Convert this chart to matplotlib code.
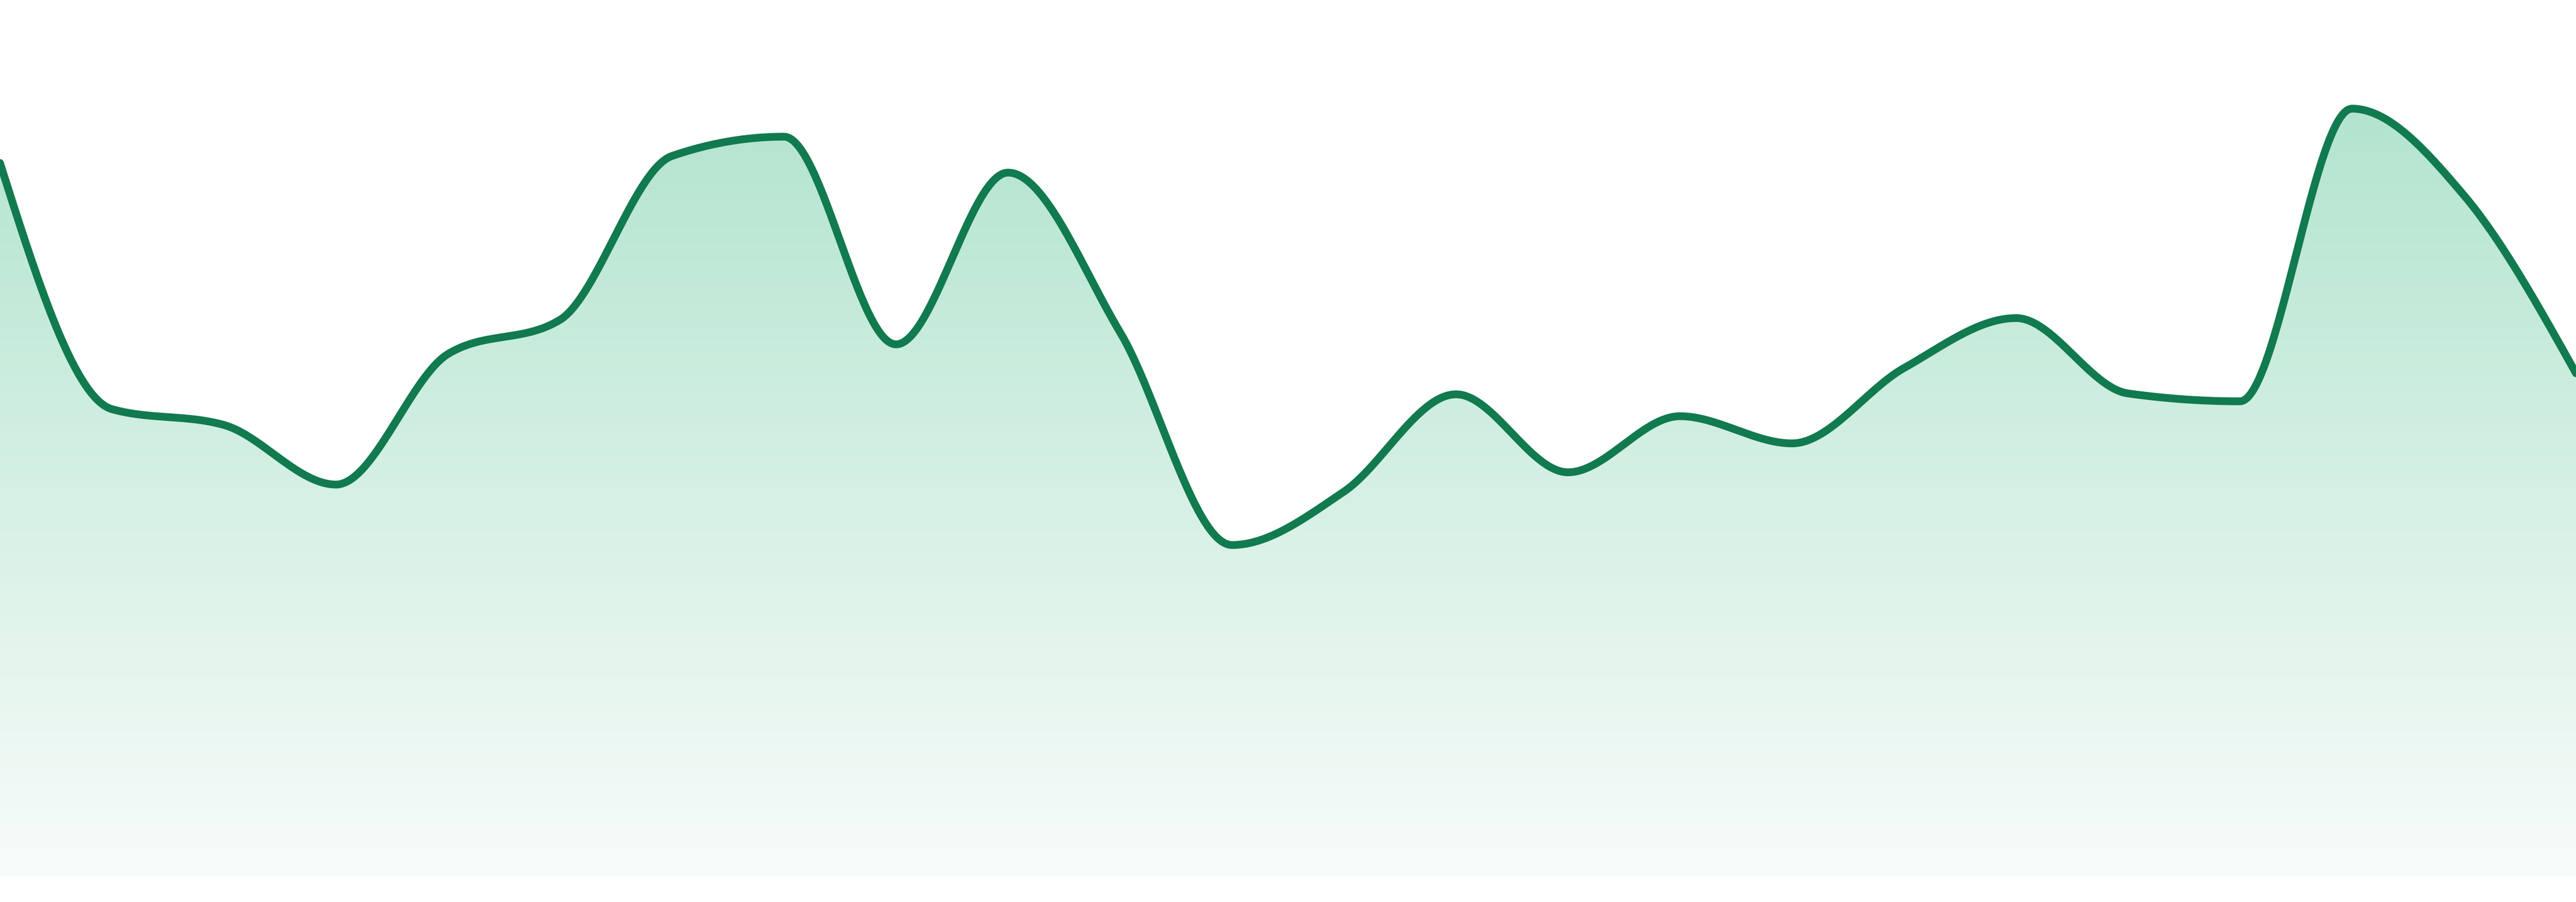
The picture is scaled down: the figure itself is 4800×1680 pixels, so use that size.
import numpy as np
import matplotlib
matplotlib.use("Agg")
import matplotlib.pyplot as plt
from matplotlib.patches import Polygon

# Data (0-100 scale of the area height)
index = list(range(24))
values = [81.4, 53.3, 51.5, 44.7, 59.6, 63.5, 82.2, 84.4, 60.7, 80.3, 62.1, 37.8,
          43.9, 55.0, 46.1, 52.5, 49.4, 58.0, 63.7, 55.1, 54.2, 87.6, 77.7, 57.4]

LINE_COLOR = "#117a4f"
TOP_COLOR = np.array([169, 225, 201]) / 255.0
BOTTOM_COLOR = np.array([248, 252, 250]) / 255.0


def monotone_x(x, y, samples=60):
    """d3.curveMonotoneX style cubic rendering of the series."""
    x = np.asarray(x, float)
    y = np.asarray(y, float)
    n = len(x)
    h = np.diff(x)
    s = np.diff(y) / h
    t = np.zeros(n)
    for i in range(1, n - 1):
        s0, s1 = s[i - 1], s[i]
        p = (s0 * h[i] + s1 * h[i - 1]) / (h[i - 1] + h[i])
        t[i] = (np.sign(s0) + np.sign(s1)) * min(abs(s0), abs(s1), 0.5 * abs(p))
    t[0] = (3 * s[0] - t[1]) / 2
    t[-1] = (3 * s[-1] - t[-2]) / 2
    xs, ys = [], []
    for i in range(n - 1):
        u = np.linspace(0, 1, samples, endpoint=(i == n - 2))
        dx = h[i]
        p0, p3 = y[i], y[i + 1]
        p1 = p0 + dx * t[i] / 3
        p2 = p3 - dx * t[i + 1] / 3
        bx = x[i] + dx * u
        by = ((1 - u) ** 3) * p0 + 3 * ((1 - u) ** 2) * u * p1 + 3 * (1 - u) * u ** 2 * p2 + u ** 3 * p3
        xs.append(bx)
        ys.append(by)
    return np.concatenate(xs), np.concatenate(ys)


W, H = 4800, 1680
BASE = 48  # white strip below the area, in pixels
fig = plt.figure(figsize=(W / 100, H / 100), dpi=100)
ax = fig.add_axes([0, BASE / H, 1, 1 - BASE / H])
ax.set_xlim(index[0], index[-1])
ax.set_ylim(0, 100)
ax.axis("off")

cx, cy = monotone_x(index, values)

# gradient fill under the curve
grad = np.linspace(0, 1, 512)[:, None, None]
img = TOP_COLOR[None, None, :] * (1 - grad) + BOTTOM_COLOR[None, None, :] * grad
im = ax.imshow(img, extent=[index[0], index[-1], 0, 100], aspect="auto",
               origin="upper", zorder=1, interpolation="bilinear")
poly = Polygon(np.column_stack([np.r_[cx, cx[-1], cx[0]], np.r_[cy, 0, 0]]),
               closed=True, facecolor="none", edgecolor="none", transform=ax.transData)
ax.add_patch(poly)
im.set_clip_path(poly)

ax.plot(cx, cy, color=LINE_COLOR, linewidth=10.4, solid_capstyle="round",
        solid_joinstyle="round", zorder=3, clip_on=False)

fig.savefig("out.png", dpi=100, facecolor="white")
